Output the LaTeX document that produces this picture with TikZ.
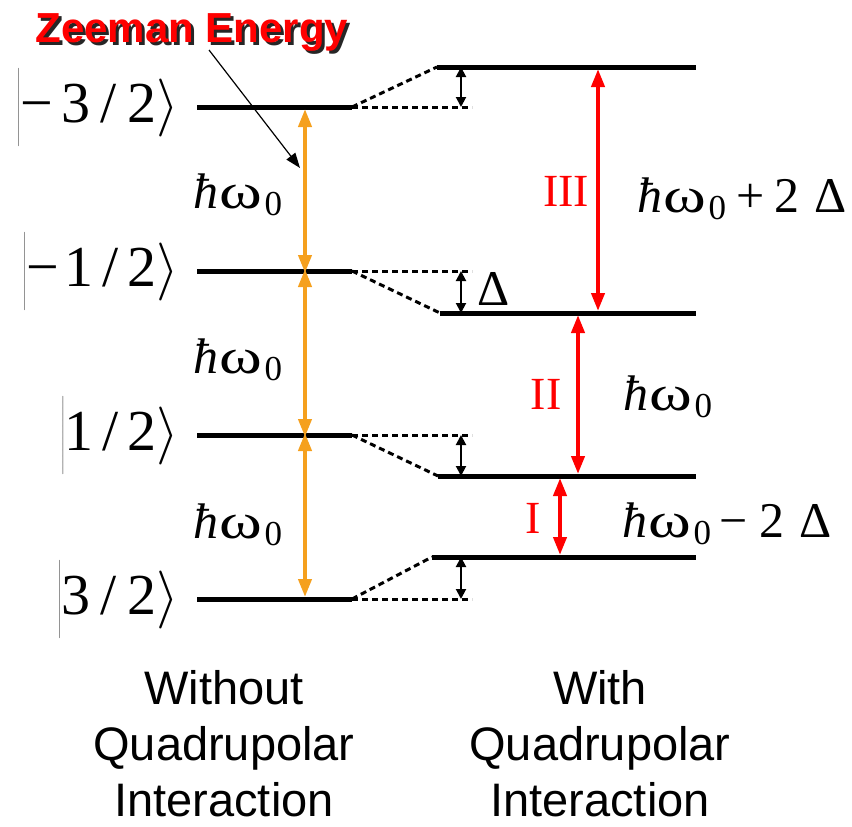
\RequirePackage{fix-cm}
\documentclass[tikz,border=0pt]{standalone}
\usepackage{fontspec}
\setmainfont{Liberation Serif}
\setsansfont{Liberation Sans}
\usetikzlibrary{arrows.meta}
\definecolor{zorange}{RGB}{245,160,30}
\definecolor{zred}{RGB}{255,0,0}
\newcommand\hw{\textit{ħ}\kern0.03em\scalebox{1.3}[1]{ω}\textsubscript{\kern0.06em 0}}
\newcommand\myket[1]{$\left|\vrule height 0.85em depth 0.42em width 0pt\mbox{#1}\right\rangle$}
\tikzset{
  level/.style={line width=5pt},
  dashlvl/.style={line width=3pt, dash pattern=on 6pt off 4pt},
  zee/.style={zorange, line width=4pt, {Triangle[length=18pt,width=13pt]}-{Triangle[length=18pt,width=13pt]}},
  trans/.style={zred, line width=4pt, {Triangle[length=18pt,width=13pt]}-{Triangle[length=18pt,width=13pt]}},
  gap/.style={line width=2pt, {Triangle[length=10pt,width=10pt]}-{Triangle[length=10pt,width=10pt]}},
  lbl/.style={font=\fontsize{50}{50}\selectfont, inner sep=0pt, anchor=base west},
  ket/.style={font=\fontsize{58}{58}\selectfont, inner sep=0pt, anchor=base east},
  roman/.style={font=\fontsize{46}{46}\selectfont, text=zred, inner sep=0pt, anchor=base},
  caption/.style={font=\sffamily\fontsize{47}{56}\selectfont, align=center, inner sep=0pt, anchor=north}
}
\begin{document}
\begin{tikzpicture}[x=1pt,y=-1pt]
\useasboundingbox (0,0) rectangle (852,827);
% left levels
\coordinate (a1) at (197,107); \coordinate (b1) at (352,107);
\coordinate (a2) at (197,271); \coordinate (b2) at (352,271);
\coordinate (a3) at (197,435); \coordinate (b3) at (352,435);
\coordinate (a4) at (197,599); \coordinate (b4) at (352,599);
% right levels
\coordinate (c1) at (437,67);  \coordinate (d1) at (696,67);
\coordinate (c2) at (440,313); \coordinate (d2) at (696,313);
\coordinate (c3) at (438,476); \coordinate (d3) at (696,476);
\coordinate (c4) at (432,557); \coordinate (d4) at (696,557);
% dashed ends
\coordinate (e1) at (472,107); \coordinate (e2) at (472,271);
\coordinate (e3) at (472,435); \coordinate (e4) at (472,599);
\foreach \i in {1,...,4}{
  \draw[level] (a\i) -- (b\i);
  \draw[level] (c\i) -- (d\i);
  \draw[dashlvl] (b\i) -- (e\i);
  \draw[dashlvl] (b\i) -- (c\i);
}
% gap arrows
\coordinate (g1a) at (461,107); \coordinate (g1b) at (461,67);
\coordinate (g2a) at (461,271); \coordinate (g2b) at (461,313);
\coordinate (g3a) at (461,435); \coordinate (g3b) at (461,476);
\coordinate (g4a) at (461,599); \coordinate (g4b) at (461,557);
\foreach \i in {1,...,4}{ \draw[gap] (g\i a) -- (g\i b); }
% orange Zeeman arrows
\coordinate (z1) at (305,109); \coordinate (z2) at (305,271);
\coordinate (z3) at (305,435); \coordinate (z4) at (305,597);
\draw[zee] (z1) -- ([yshift=-2pt]z2);
\draw[zee] ([yshift=2pt]z2) -- ([yshift=-2pt]z3);
\draw[zee] ([yshift=2pt]z3) -- (z4);
% red transitions
\coordinate (r3a) at (598,69);  \coordinate (r3b) at (598,311);
\coordinate (r2a) at (578,315); \coordinate (r2b) at (578,474);
\coordinate (r1a) at (560,478); \coordinate (r1b) at (560,555);
\draw[trans] (r3a) -- (r3b);
\draw[trans] (r2a) -- (r2b);
\draw[trans] (r1a) -- (r1b);
\node[roman] (n3) at (566,206) {III};
\node[roman] (n2) at (546,409) {II};
\node[roman] (n1) at (533,533) {I};
% kets
\node[ket] (k1) at (179,122) {\myket{−\kern0.14em 3\kern0.18em/\kern0.18em 2}};
\node[ket] (k2) at (179,286) {\myket{−\kern0.1em 1\kern0.15em/\kern0.15em 2}};
\node[ket] (k3) at (179,450) {\myket{1\kern0.15em/\kern0.15em 2}};
\node[ket] (k4) at (179,614) {\myket{3\kern0.18em/\kern0.18em 2}};
% left labels
\node[lbl] (h1) at (193,208) {\hw};
\node[lbl] (h2) at (193,373) {\hw};
\node[lbl] (h3) at (193,538) {\hw};
% right labels
\node[lbl] (t3) at (637,212) {\hw\kern0.2em+\kern0.2em 2\kern0.3em Δ};
\node[lbl] (t2) at (623,410) {\hw};
\node[lbl] (t1) at (622,537) {\hw\kern0.15em−\kern0.25em 2\kern0.3em Δ};
\node[lbl] (dl) at (477,305) {Δ};
% title
\node[font=\sffamily\bfseries\fontsize{42}{42}\selectfont, text=zred, anchor=base] (title) at (192,42)
  {\makebox[0pt][l]{\kern3pt\raisebox{-3pt}{\color{black!85}Zeeman Energy}}Zeeman Energy};
\coordinate (tp) at (300,168);
\draw[line width=1.2pt, -{Triangle[length=15pt,width=11pt]}] (209,50) -- (tp);
% captions
\node[caption] (cl) at (224,670) {Without\\Quadrupolar\\Interaction};
\node[caption] (cr) at (600,670) {With\\Quadrupolar\\Interaction};
\end{tikzpicture}
\end{document}
